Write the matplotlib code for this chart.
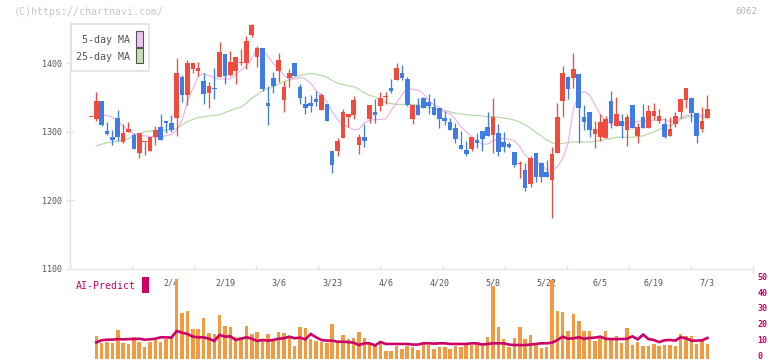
import numpy as np
import matplotlib
matplotlib.use("Agg")
import matplotlib.pyplot as plt
from matplotlib.patches import Rectangle
from matplotlib.transforms import blended_transform_factory, ScaledTranslation

# ---------------- data ----------------
opens = [1321, 1319, 1345, 1301, 1292, 1320, 1285, 1300, 1295, 1269,
         1285, 1272, 1292, 1307, 1316, 1313, 1320, 1380, 1354, 1392,
         1389, 1374, 1357, 1364, 1380, 1414, 1383, 1389, 1401, 1400,
         1441, 1409, 1422, 1342, 1379, 1389, 1347, 1379, 1400, 1365,
         1341, 1342, 1348, 1332, 1341, 1272, 1272, 1291, 1322, 1325,
         1280, 1292, 1319, 1329, 1338, 1351, 1364, 1375, 1386, 1377,
         1319, 1339, 1349, 1344, 1336, 1335, 1320, 1314, 1305, 1281,
         1273, 1275, 1288, 1301, 1307, 1295, 1298, 1285, 1282, 1270,
         1253, 1244, 1224, 1269, 1254, 1241, 1230, 1269, 1345, 1380,
         1379, 1384, 1322, 1329, 1297, 1292, 1291, 1345, 1308, 1316,
         1303, 1339, 1294, 1322, 1306, 1323, 1316, 1311, 1294, 1311,
         1329, 1346, 1349, 1327, 1304, 1320]
highs = [1321, 1358, 1345, 1314, 1303, 1332, 1311, 1314, 1298, 1298,
         1287, 1292, 1308, 1326, 1316, 1325, 1408, 1383, 1405, 1400,
         1402, 1386, 1373, 1393, 1431, 1414, 1418, 1409, 1421, 1440,
         1458, 1425, 1422, 1367, 1387, 1415, 1374, 1392, 1400, 1370,
         1352, 1354, 1360, 1357, 1341, 1272, 1291, 1333, 1326, 1352,
         1297, 1311, 1339, 1348, 1358, 1358, 1377, 1401, 1398, 1380,
         1339, 1349, 1351, 1355, 1349, 1335, 1330, 1320, 1313, 1301,
         1287, 1292, 1298, 1301, 1329, 1349, 1311, 1300, 1285, 1270,
         1257, 1254, 1265, 1269, 1256, 1259, 1278, 1342, 1396, 1382,
         1415, 1384, 1339, 1329, 1316, 1326, 1323, 1360, 1351, 1326,
         1326, 1339, 1313, 1341, 1339, 1342, 1333, 1320, 1322, 1329,
         1348, 1364, 1349, 1327, 1336, 1354]
lows = [1321, 1316, 1308, 1295, 1280, 1287, 1284, 1300, 1275, 1262,
        1266, 1272, 1281, 1288, 1298, 1300, 1294, 1344, 1339, 1386,
        1382, 1341, 1335, 1348, 1380, 1370, 1382, 1370, 1398, 1392,
        1438, 1395, 1360, 1310, 1357, 1373, 1329, 1366, 1382, 1340,
        1326, 1329, 1337, 1332, 1315, 1240, 1264, 1291, 1307, 1319,
        1268, 1278, 1313, 1313, 1331, 1341, 1357, 1375, 1376, 1337,
        1312, 1325, 1334, 1326, 1325, 1306, 1310, 1302, 1283, 1275,
        1264, 1272, 1277, 1272, 1294, 1269, 1265, 1271, 1277, 1248,
        1233, 1214, 1220, 1226, 1227, 1234, 1174, 1269, 1322, 1348,
        1364, 1284, 1302, 1292, 1276, 1287, 1291, 1305, 1308, 1291,
        1279, 1306, 1284, 1306, 1306, 1317, 1313, 1291, 1294, 1307,
        1320, 1335, 1314, 1284, 1300, 1320]
closes = [1321, 1345, 1310, 1297, 1288, 1293, 1298, 1304, 1275, 1298,
          1285, 1292, 1303, 1288, 1313, 1303, 1386, 1354, 1400, 1400,
          1393, 1355, 1367, 1362, 1416, 1382, 1402, 1409, 1402, 1433,
          1456, 1422, 1362, 1338, 1367, 1405, 1365, 1386, 1382, 1350,
          1335, 1338, 1344, 1354, 1316, 1251, 1287, 1329, 1326, 1346,
          1292, 1287, 1339, 1325, 1349, 1352, 1360, 1393, 1378, 1339,
          1339, 1325, 1335, 1338, 1325, 1319, 1316, 1303, 1290, 1275,
          1268, 1292, 1284, 1290, 1294, 1322, 1270, 1278, 1278, 1251,
          1254, 1218, 1262, 1234, 1234, 1234, 1268, 1322, 1386, 1362,
          1392, 1335, 1314, 1303, 1304, 1314, 1319, 1313, 1326, 1308,
          1322, 1306, 1307, 1306, 1330, 1330, 1323, 1292, 1304, 1323,
          1348, 1364, 1327, 1294, 1316, 1333]
ma5 = [np.nan, np.nan, 1324, 1324, 1321, 1316, 1308, 1301, 1297, 1295,
       1294, 1293, 1292, 1293, 1294, 1296, 1303, 1317, 1344, 1363,
       1381, 1385, 1382, 1379, 1377, 1377, 1377, 1384, 1390, 1396,
       1407, 1422, 1420, 1410, 1400, 1393, 1383, 1376, 1377, 1379,
       1377, 1371, 1360, 1353, 1344, 1329, 1318, 1310, 1307, 1303,
       1304, 1313, 1317, 1318, 1318, 1319, 1331, 1342, 1354, 1363,
       1362, 1361, 1356, 1345, 1339, 1336, 1329, 1326, 1318, 1307,
       1300, 1293, 1286, 1282, 1282, 1287, 1290, 1290, 1289, 1287,
       1278, 1266, 1260, 1258, 1251, 1245, 1243, 1249, 1261, 1283,
       1334, 1354, 1359, 1354, 1339, 1326, 1315, 1312, 1311, 1311,
       1313, 1315, 1315, 1316, 1316, 1317, 1317, 1318, 1315, 1316,
       1320, 1324, 1324, 1323, 1324, 1324]
ma25 = [np.nan, 1279, 1282, 1284, 1285, 1286, 1288, 1290, 1294, 1297,
        1300, 1301, 1302, 1302, 1302, 1303, 1305, 1310, 1315, 1318,
        1321, 1322, 1323, 1324, 1325, 1328, 1331, 1334, 1336, 1342,
        1349, 1354, 1360, 1363, 1366, 1370, 1373, 1376, 1380, 1382,
        1384, 1385, 1384, 1382, 1380, 1375, 1371, 1369, 1367, 1366,
        1362, 1357, 1353, 1351, 1346, 1343, 1341, 1340, 1340, 1340,
        1340, 1339, 1337, 1336, 1334, 1332, 1331, 1329, 1327, 1326,
        1325, 1324, 1324, 1323, 1322, 1322, 1321, 1320, 1319, 1317,
        1314, 1310, 1305, 1299, 1294, 1288, 1284, 1282, 1283, 1284,
        1285, 1285, 1285, 1285, 1286, 1287, 1289, 1290, 1292, 1292,
        1292, 1292, 1293, 1294, 1297, 1300, 1303, 1307, 1309, 1312,
        1318, 1321, 1322, 1323, 1321, 1320]
volume = [0, 14.5, 10.3, 10.9, 10.3, 18.3, 10.3, 9.5, 13.9, 10.7,
          7.6, 10.9, 12.2, 10.9, 12.6, 13.9, 50.5, 29.1, 30.3, 18.9,
          18.9, 25.9, 16.4, 16.0, 27.8, 20.8, 20.2, 13.9, 13.9, 20.8,
          15.8, 17.1, 12.0, 15.8, 12.0, 17.1, 16.4, 13.9, 8.2, 20.2,
          19.6, 12.6, 11.4, 10.7, 10.1, 22.1, 11.4, 15.2, 12.6, 13.3,
          17.1, 13.3, 9.5, 8.2, 9.5, 5.1, 5.1, 8.2, 6.3, 8.2,
          7.4, 5.7, 10.3, 8.8, 6.3, 7.6, 7.4, 6.3, 8.2, 7.6,
          8.8, 8.8, 10.1, 10.1, 13.9, 46.1, 20.2, 12.6, 7.6, 13.3,
          20.2, 12.6, 15.2, 8.8, 6.9, 7.6, 49.9, 30.3, 29.7, 17.7,
          28.4, 24.0, 17.7, 17.7, 11.4, 13.3, 17.7, 12.0, 14.5, 10.1,
          19.6, 8.8, 10.7, 8.2, 8.2, 9.5, 8.2, 8.8, 8.8, 8.2,
          15.8, 14.5, 14.5, 9.5, 11.4, 9.5]
ai_predict = [np.nan, 10.5, 11.8, 12.2, 12.2, 12.6, 12.4, 12.6, 12.6, 12.8,
              12.2, 12.4, 12.8, 13.7, 13.7, 13.5, 17.7, 16.6, 15.8, 14.1,
              13.7, 13.7, 12.8, 11.4, 15.2, 14.1, 14.3, 12.0, 12.8, 13.7,
              12.8, 11.4, 12.0, 11.6, 12.0, 12.8, 13.1, 14.1, 13.1, 13.5,
              12.4, 15.8, 13.7, 12.0, 11.6, 11.6, 10.9, 10.9, 10.7, 10.3,
              8.8, 9.9, 9.9, 8.6, 10.7, 9.5, 9.5, 9.5, 9.5, 9.5,
              9.1, 9.1, 9.9, 9.9, 9.7, 9.9, 9.9, 9.5, 9.5, 9.5,
              9.5, 9.9, 9.9, 9.1, 9.5, 9.9, 9.9, 9.9, 9.1, 8.8,
              8.8, 8.8, 9.1, 9.5, 9.9, 9.9, 10.3, 12.0, 14.1, 12.8,
              13.1, 13.7, 12.8, 13.3, 13.5, 14.1, 12.8, 12.6, 12.6, 12.6,
              12.8, 14.3, 12.4, 15.4, 12.6, 12.0, 10.7, 11.8, 12.0, 11.6,
              13.7, 13.1, 11.6, 11.6, 11.8, 13.3]
date_labels = ['2/4', '2/19', '3/6', '3/23', '4/6', '4/20',
               '5/8', '5/22', '6/5', '6/19', '7/3']
date_index = [15, 25, 35, 45, 55, 65, 75, 85, 95, 105, 115]
price_ticks = [1100, 1200, 1300, 1400]
volume_ticks = [0, 10, 20, 30, 40, 50]

# ---------------- style ----------------
RED = '#f04b3c'
BLUE = '#3f7ce8'
ORANGE = '#f19a42'
CRIMSON = '#cc0066'
PINK = '#ebb6eb'
GREEN = '#b7dca8'
AXIS = '#e3e3e3'
MONO = 'DejaVu Sans Mono'

W, H = 772, 361
fig = plt.figure(figsize=(W / 100, H / 100), dpi=100)
fig.patch.set_facecolor('white')


def fx(px):
    return px / W


def fy(py):
    return 1 - py / H


PX = 0.72  # points per pixel

o = np.array(opens, float)
h = np.array(highs, float)
l = np.array(lows, float)
c = np.array(closes, float)
idx = np.arange(len(o))

# main price axes
ax = fig.add_axes([fx(70), fy(268.7), (753 - 70) / W, (268.7 - 22) / H])
ax.set_xlim(-3.91, 123.5)
ax.set_ylim(1100, 1460.3)

up = c >= o
cols = np.where(up, RED, BLUE)
ax.plot(idx, ma25, color=GREEN, lw=0.9, zorder=1)
ax.plot(idx, ma5, color=PINK, lw=0.9, zorder=1)
ax.vlines(idx, l, h, colors=cols, lw=1.0 * PX * 1.3, zorder=2)
ax.bar(idx, np.maximum(np.abs(c - o), 1.3), bottom=np.minimum(o, c),
       width=0.86, color=cols, lw=0, zorder=3)

for s in ['top', 'right']:
    ax.spines[s].set_visible(False)
for s in ['left', 'bottom']:
    ax.spines[s].set_color(AXIS)
    ax.spines[s].set_linewidth(1.0)
ax.set_yticks(price_ticks)
ax.set_yticklabels([str(t) for t in price_ticks])
ax.tick_params(axis='y', direction='inout', length=8 * PX, width=1, color=AXIS,
               labelsize=6, labelcolor='#555555', pad=3)
for lab in ax.get_yticklabels():
    lab.set_family(MONO)
xt = [(-3.91 + k * (127.41 / 11)) for k in range(12)]
ax.set_xticks(xt)
ax.set_xticklabels([])
ax.tick_params(axis='x', direction='inout', length=9 * PX, width=1, color=AXIS)

# volume axes
axv = fig.add_axes([fx(70), fy(359), (753 - 70) / W, 89 / H])
axv.set_xlim(-3.91, 123.5)
axv.set_ylim(0, 56.2)
axv.bar(idx, volume, width=0.65, color=ORANGE, lw=0, zorder=2)
axv.plot(idx, ai_predict, color=CRIMSON, lw=1.9, zorder=3,
         solid_joinstyle='miter')
for s in axv.spines.values():
    s.set_visible(False)
axv.set_xticks([])
axv.yaxis.tick_right()
axv.set_yticks(volume_ticks)
axv.set_yticklabels([str(t) for t in volume_ticks])
axv.tick_params(axis='y', length=0, pad=3, labelsize=6.0, labelcolor=CRIMSON)
for lab in axv.get_yticklabels():
    lab.set_family(MONO)
    lab.set_fontweight('bold')
    lab.set_transform(lab.get_transform() + ScaledTranslation(0, 0.035, fig.dpi_scale_trans))

tr = blended_transform_factory(axv.transData, axv.transAxes)
for lab, i in zip(date_labels, date_index):
    axv.text(i, (359 - 282.5) / 89, lab, transform=tr, ha='center', va='center',
             fontsize=6, color='#555555', family=MONO, zorder=1)

# AI-Predict label
fig.text(fx(76), fy(286), 'AI-Predict', ha='left', va='center', fontsize=7.1,
         color=CRIMSON, family=MONO)
fig.add_artist(Rectangle((fx(142), fy(292.7)), 6.7 / W, 16 / H,
                         transform=fig.transFigure, facecolor=CRIMSON,
                         edgecolor='none', zorder=5))

# legend box
fig.add_artist(Rectangle((fx(70.5), fy(71)), 78 / W, 47 / H, transform=fig.transFigure,
                         facecolor='white', edgecolor='#e0e0e0', lw=1.2, zorder=5))
fig.add_artist(Rectangle((fx(136), fy(46.7)), 6.7 / W, 15.7 / H, transform=fig.transFigure,
                         facecolor='#eec3ee', edgecolor='#555555', lw=0.8, zorder=6))
fig.add_artist(Rectangle((fx(136), fy(63.3)), 6.7 / W, 15.7 / H, transform=fig.transFigure,
                         facecolor='#c3e2b5', edgecolor='#555555', lw=0.8, zorder=6))
fig.text(fx(129.5), fy(40), '5-day MA', ha='right', va='center', fontsize=7.2,
         color='#555555', family=MONO, zorder=7)
fig.text(fx(129.5), fy(56.5), '25-day MA', ha='right', va='center', fontsize=7.2,
         color='#555555', family=MONO, zorder=7)

# header texts
fig.text(fx(14), fy(12), '(C)https://chartnavi.com/', ha='left', va='center',
         fontsize=7.2, color='#c8c8c8', family=MONO)
fig.text(fx(757), fy(12), '6062', ha='right', va='center', fontsize=6.6,
         color='#b5b5b5', family=MONO)

fig.savefig('out.png', dpi=100, facecolor='white')
